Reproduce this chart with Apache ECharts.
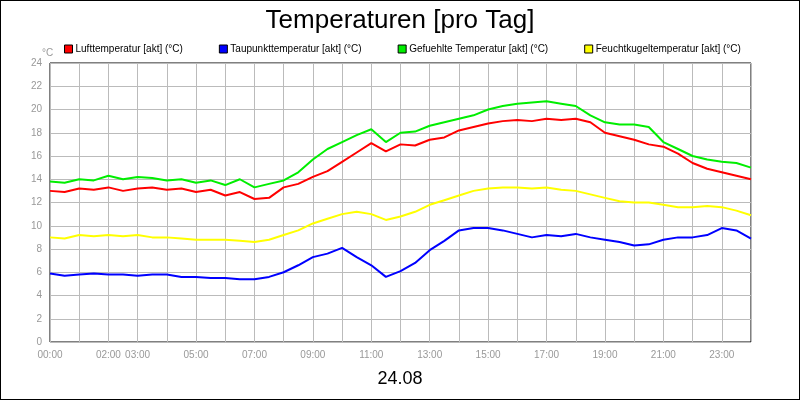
<!DOCTYPE html>
<html><head><meta charset="utf-8">
<script src="https://cdn.jsdelivr.net/npm/echarts@6/dist/echarts.min.js"></script>
<style>html,body{margin:0;padding:0}#c{width:798px;height:398px;border:1px solid #000}</style>
</head><body><div id="c"></div>
<script>
// half-hourly times 0..24
const hours = Array.from({length:49},(_,i)=>i/2);
const luft = [13.0,12.9,13.2,13.1,13.3,13.0,13.2,13.3,13.1,13.2,12.9,13.1,12.6,12.9,12.3,12.4,13.3,13.6,14.2,14.7,15.5,16.3,17.1,16.4,17.0,16.9,17.4,17.6,18.2,18.5,18.8,19.0,19.1,19.0,19.2,19.1,19.2,18.9,18.0,17.7,17.4,17.0,16.8,16.2,15.4,14.9,14.6,14.3,14.0];
const tau = [5.9,5.7,5.8,5.9,5.8,5.8,5.7,5.8,5.8,5.6,5.6,5.5,5.5,5.4,5.4,5.6,6.0,6.6,7.3,7.6,8.1,7.3,6.6,5.6,6.1,6.8,7.9,8.7,9.6,9.8,9.8,9.6,9.3,9.0,9.2,9.1,9.3,9.0,8.8,8.6,8.3,8.4,8.8,9.0,9.0,9.2,9.8,9.6,8.9];
const gef = [13.8,13.7,14.0,13.9,14.3,14.0,14.2,14.1,13.9,14.0,13.7,13.9,13.5,14.0,13.3,13.6,13.9,14.6,15.7,16.6,17.2,17.8,18.3,17.2,18.0,18.1,18.6,18.9,19.2,19.5,20.0,20.3,20.5,20.6,20.7,20.5,20.3,19.5,18.9,18.7,18.7,18.5,17.2,16.6,16.0,15.7,15.5,15.4,15.0];
const feucht = [9.0,8.9,9.2,9.1,9.2,9.1,9.2,9.0,9.0,8.9,8.8,8.8,8.8,8.7,8.6,8.8,9.2,9.6,10.2,10.6,11.0,11.2,11.0,10.5,10.8,11.2,11.8,12.2,12.6,13.0,13.2,13.3,13.3,13.2,13.3,13.1,13.0,12.7,12.4,12.1,12.0,12.0,11.8,11.6,11.6,11.7,11.6,11.3,10.9];
const names = ['Lufttemperatur [akt] (°C)','Taupunkttemperatur [akt] (°C)','Gefuehlte Temperatur [akt] (°C)','Feuchtkugeltemperatur [akt] (°C)'];
const colors = ['#ff0000','#0000ff','#00ee00','#ffff00'];
const tickLabels = {0:'00:00',2:'02:00',3:'03:00',5:'05:00',7:'07:00',9:'09:00',11:'11:00',13:'13:00',15:'15:00',17:'17:00',19:'19:00',21:'21:00',23:'23:00'};
const datas = [luft,tau,gef,feucht];
const ch = echarts.init(document.getElementById('c'));
ch.setOption({
  backgroundColor:'#fff',
  animation:false,
  title:[{text:'Temperaturen [pro Tag]',left:'center',top:2,textStyle:{fontSize:26,fontWeight:'normal',color:'#000',fontFamily:'Liberation Sans'}},
         {text:'24.08',left:'center',top:364,textStyle:{fontSize:18,fontWeight:'normal',color:'#000',fontFamily:'Liberation Sans'}},
         {text:'°C',left:36,top:42,textStyle:{fontSize:10,fontWeight:'normal',color:'#999'}}],
  legend:{top:38,left:58,itemWidth:8,itemHeight:8,itemGap:36,icon:'rect',
    textStyle:{fontSize:10,color:'#000',fontFamily:'Liberation Sans',padding:[0,0,0,-2]},
    data:names.map((n,i)=>({name:n,itemStyle:{color:colors[i],borderColor:'#000',borderWidth:1}}))},
  grid:{left:49,right:48,top:62,bottom:57,show:true,borderColor:'#000',borderWidth:1},
  xAxis:{type:'value',min:0,max:24,interval:1,
    axisLine:{show:false},axisTick:{show:false},
    splitLine:{lineStyle:{color:'#bbb'}},
    axisLabel:{fontSize:10,color:'#999',formatter:v=>tickLabels[v]||''}},
  yAxis:{type:'value',min:0,max:24,interval:2,
    axisLine:{show:false},axisTick:{show:false},
    splitLine:{lineStyle:{color:'#bbb'}},
    axisLabel:{fontSize:10,color:'#999'}},
  series:datas.map((d,i)=>({name:names[i],type:'line',showSymbol:false,
    lineStyle:{width:2,color:colors[i]},itemStyle:{color:colors[i]},
    data:d.map((v,j)=>[hours[j],v])}))
});
</script></body></html>
